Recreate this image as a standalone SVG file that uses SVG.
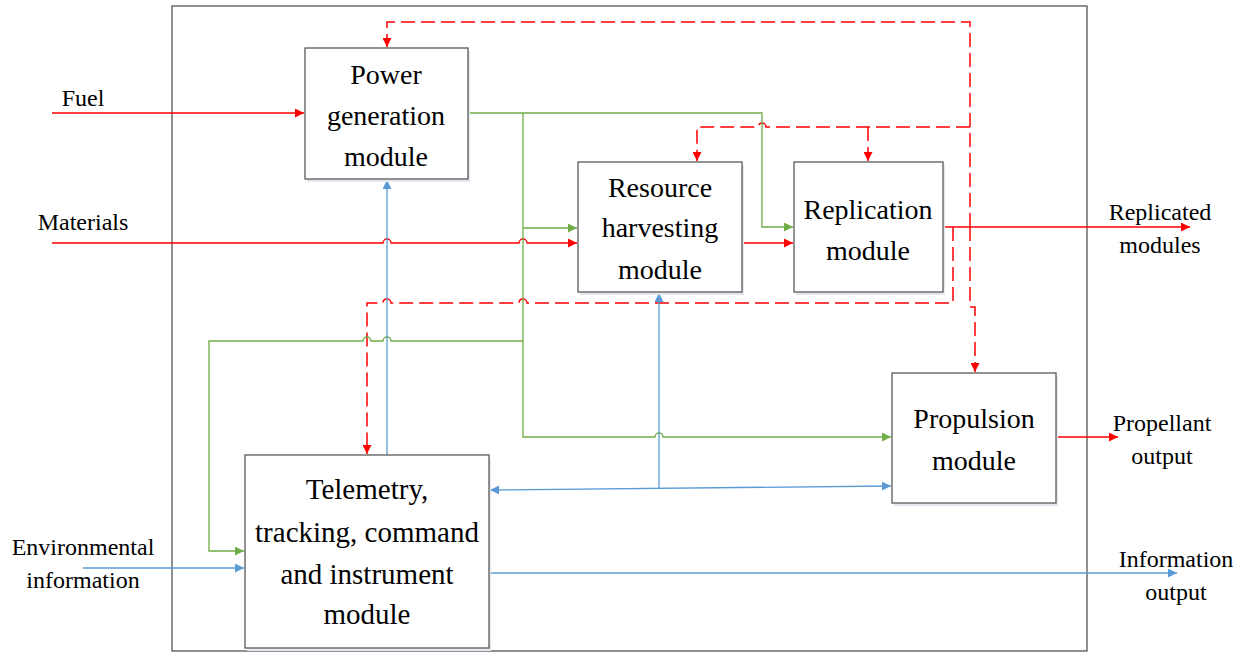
<svg xmlns="http://www.w3.org/2000/svg" width="1243" height="653" viewBox="0 0 1243 653">
<style>
.box{fill:#fff;stroke:#595959;stroke-width:1.3}
.shadow{fill:#e4e8ee;stroke:none}
.nt{font-family:"Liberation Serif",serif;font-size:28px;fill:#000;text-anchor:middle}
.lt{font-family:"Liberation Serif",serif;font-size:24px;fill:#000;text-anchor:middle}
.r{stroke:#ff0000;fill:none;stroke-width:1.3}
.rd{stroke:#ff0000;fill:none;stroke-width:1.5;stroke-dasharray:14 6}
.g{stroke:#70ad47;fill:none;stroke-width:1.3}
.b{stroke:#5b9bd5;fill:none;stroke-width:1.3}
</style>
<defs>
<marker id="ar" viewBox="0 0 10 10" refX="10" refY="5" markerWidth="9" markerHeight="9" markerUnits="userSpaceOnUse" orient="auto"><path d="M0,0 L10,5 L0,10 z" fill="#ff0000"/></marker>
<marker id="ag" viewBox="0 0 10 10" refX="10" refY="5" markerWidth="9" markerHeight="9" markerUnits="userSpaceOnUse" orient="auto"><path d="M0,0 L10,5 L0,10 z" fill="#70ad47"/></marker>
<marker id="ab" viewBox="0 0 10 10" refX="10" refY="5" markerWidth="9" markerHeight="9" markerUnits="userSpaceOnUse" orient="auto-start-reverse"><path d="M0,0 L10,5 L0,10 z" fill="#5b9bd5"/></marker>
</defs>
<rect width="1243" height="653" fill="#fff"/>
<rect id="frame" x="172" y="6" width="915" height="645" fill="none" stroke="#555" stroke-width="1.3"/>

<g id="connectors">
  <!-- red solid -->
  <path class="r" d="M52,113 H304" marker-end="url(#ar)"/>
  <path class="r" d="M52,243 H383 a4,4 0 0 1 8,0 H519 a4,4 0 0 1 8,0 H577" marker-end="url(#ar)"/>
  <path class="r" d="M742,243 H793" marker-end="url(#ar)"/>
  <path class="r" d="M943,227 H1190" marker-end="url(#ar)"/>
  <path class="r" d="M1056,437 H1118" marker-end="url(#ar)"/>
  <!-- red dashed -->
  <path class="rd" d="M970,227 V22 H387 V47" marker-end="url(#ar)"/>
  <path class="rd" d="M970,227 V307 H975 V372" marker-end="url(#ar)"/>
  <path class="rd" d="M970,127 H766 a4,4 0 0 0 -8,0 H697 V161" marker-end="url(#ar)"/>
  <path class="rd" d="M868,127 V161" marker-end="url(#ar)"/>
  <path class="rd" d="M953,227 V303 H527 a4,4 0 0 0 -8,0 H391 a4,4 0 0 0 -8,0 H367 V454" marker-end="url(#ar)"/>
  <!-- green -->
  <path class="g" d="M468,113 H762 V227 H793" marker-end="url(#ag)"/>
  <path class="g" d="M523,113 V437 H655 a4,4 0 0 1 8,0 H891" marker-end="url(#ag)"/>
  <path class="g" d="M523,228 H577" marker-end="url(#ag)"/>
  <path class="g" d="M523,341 H391 a4,4 0 0 0 -8,0 H371 a4,4 0 0 0 -8,0 H209 V551 H244" marker-end="url(#ag)"/>
  <!-- blue -->
  <path class="b" d="M387,455 V180" marker-end="url(#ab)"/>
  <path class="b" d="M659,488 V293" marker-end="url(#ab)"/>
  <path class="b" d="M490,490 L891,486" marker-start="url(#ab)" marker-end="url(#ab)"/>
  <path class="b" d="M83,568 H244" marker-end="url(#ab)"/>
  <path class="b" d="M489,573 H1177" marker-end="url(#ab)"/>
</g>

<g id="power">
  <rect class="shadow" x="307" y="51" width="163" height="131"/>
  <rect class="box" x="305" y="48" width="163" height="131"/>
  <text class="nt" x="386" y="84">Power</text>
  <text class="nt" x="386" y="125">generation</text>
  <text class="nt" x="386" y="166">module</text>
</g>
<g id="resource">
  <rect class="shadow" x="580" y="165" width="164" height="130"/>
  <rect class="box" x="578" y="162" width="164" height="130"/>
  <text class="nt" x="660" y="197">Resource</text>
  <text class="nt" x="660" y="237">harvesting</text>
  <text class="nt" x="660" y="279">module</text>
</g>
<g id="replication">
  <rect class="shadow" x="796" y="165" width="149" height="130"/>
  <rect class="box" x="794" y="162" width="149" height="130"/>
  <text class="nt" x="868" y="219">Replication</text>
  <text class="nt" x="868" y="260">module</text>
</g>
<g id="propulsion">
  <rect class="shadow" x="894" y="376" width="164" height="130"/>
  <rect class="box" x="892" y="373" width="164" height="130"/>
  <text class="nt" x="974" y="428">Propulsion</text>
  <text class="nt" x="974" y="470">module</text>
</g>
<g id="telemetry">
  <rect class="shadow" x="247" y="458" width="244" height="193"/>
  <rect class="box" x="245" y="455" width="244" height="193"/>
  <text class="nt" x="367" y="499" style="font-size:29px">Telemetry,</text>
  <text class="nt" x="367" y="542" style="font-size:29px">tracking, command</text>
  <text class="nt" x="367" y="584" style="font-size:29px">and instrument</text>
  <text class="nt" x="367" y="624" style="font-size:29px">module</text>
</g>

<g id="labels">
  <text class="lt" x="83" y="106">Fuel</text>
  <text class="lt" x="83" y="230">Materials</text>
  <text class="lt" x="83" y="555">Environmental</text>
  <text class="lt" x="83" y="588">information</text>
  <text class="lt" x="1160" y="220">Replicated</text>
  <text class="lt" x="1160" y="253">modules</text>
  <text class="lt" x="1162" y="431">Propellant</text>
  <text class="lt" x="1162" y="464">output</text>
  <text class="lt" x="1176" y="567">Information</text>
  <text class="lt" x="1176" y="600">output</text>
</g>
</svg>
